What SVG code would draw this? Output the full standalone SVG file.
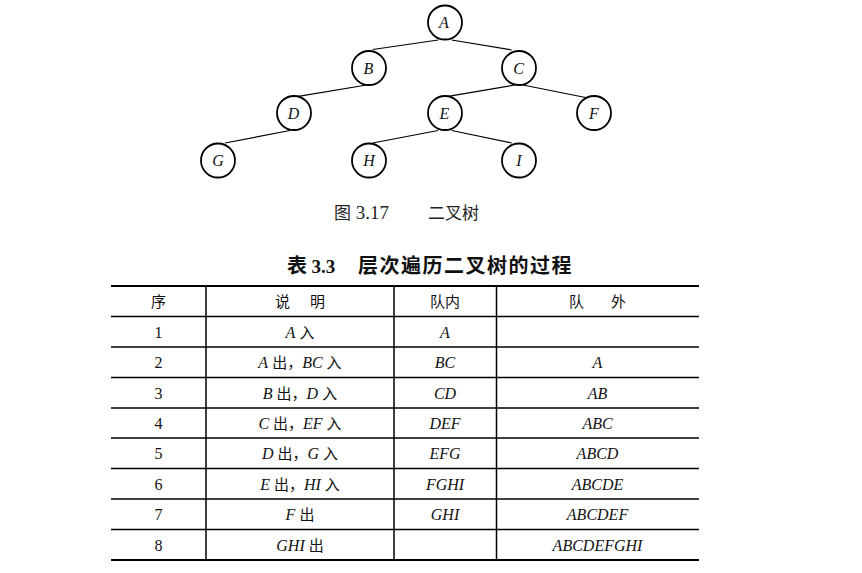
<svg xmlns="http://www.w3.org/2000/svg" width="862" height="573" viewBox="0 0 862 573">
<style>
.node circle{fill:#fff;stroke:#000;stroke-width:1.8}
.node text{font-family:"Liberation Serif",serif;font-style:italic;font-size:16px;text-anchor:middle;fill:#111}
.edges line{stroke:#000;stroke-width:1.2}
.grid line{stroke:#000}
.t{font-family:"Liberation Serif","Noto Sans CJK SC",serif;font-size:16px;text-anchor:middle;fill:#111}
.i{font-style:italic}
.cjk{font-family:"Noto Sans CJK SC",sans-serif;font-size:15px}
.cap{font-family:"Liberation Serif","Noto Sans CJK SC",serif;font-size:19px;fill:#222}
.title{font-family:"Noto Sans CJK SC",sans-serif;font-size:20px;font-weight:bold;fill:#111}
</style>
<rect width="862" height="573" fill="#fff"/>
<g class="edges">
<line x1="438.3" y1="40" x2="372.7" y2="49.5"/>
<line x1="451.7" y1="40" x2="511.7" y2="50"/>
<line x1="366.7" y1="85" x2="296.7" y2="96.7"/>
<line x1="515" y1="85" x2="446.7" y2="96.7"/>
<line x1="523" y1="85" x2="588" y2="98"/>
<line x1="290" y1="130.5" x2="225" y2="143"/>
<line x1="438" y1="130.5" x2="372.7" y2="143"/>
<line x1="451.7" y1="130.5" x2="511.7" y2="143"/>
</g>
<g id="node-A" class="node"><circle cx="445" cy="22.5" r="17"/><text x="444" y="28">A</text></g>
<g id="node-B" class="node"><circle cx="369" cy="68" r="17"/><text x="368.5" y="73.5">B</text></g>
<g id="node-C" class="node"><circle cx="519" cy="68" r="17"/><text x="518.5" y="73.5">C</text></g>
<g id="node-D" class="node"><circle cx="294" cy="113" r="17"/><text x="293.5" y="118.5">D</text></g>
<g id="node-E" class="node"><circle cx="445" cy="113" r="17"/><text x="444.5" y="118.5">E</text></g>
<g id="node-F" class="node"><circle cx="594" cy="113" r="17"/><text x="594" y="118.5">F</text></g>
<g id="node-G" class="node"><circle cx="218" cy="160.5" r="17"/><text x="218" y="166">G</text></g>
<g id="node-H" class="node"><circle cx="369" cy="160.5" r="17"/><text x="369" y="166">H</text></g>
<g id="node-I" class="node"><circle cx="519" cy="160.5" r="17"/><text x="519" y="166">I</text></g>
<text class="cap" x="334" y="219"><tspan font-family="Noto Sans CJK SC,sans-serif" font-size="17">图</tspan> 3.17<tspan x="428" font-family="Noto Sans CJK SC,sans-serif" font-size="17">二叉树</tspan></text>
<text class="title" x="287" y="273">表 <tspan font-family="Liberation Serif,serif" font-size="19">3.3</tspan><tspan x="358" letter-spacing="1.5">层次遍历二叉树的过程</tspan></text>
<g class="grid">
<line x1="111" y1="286" x2="699" y2="286" stroke-width="2.2"/>
<line x1="111" y1="316.5" x2="699" y2="316.5" stroke-width="1.4"/>
<line x1="111" y1="347" x2="699" y2="347" stroke-width="1.4"/>
<line x1="111" y1="377.5" x2="699" y2="377.5" stroke-width="1.4"/>
<line x1="111" y1="408" x2="699" y2="408" stroke-width="1.4"/>
<line x1="111" y1="438" x2="699" y2="438" stroke-width="1.4"/>
<line x1="111" y1="468.5" x2="699" y2="468.5" stroke-width="1.4"/>
<line x1="111" y1="499" x2="699" y2="499" stroke-width="1.4"/>
<line x1="111" y1="529.5" x2="699" y2="529.5" stroke-width="1.4"/>
<line x1="111" y1="560" x2="699" y2="560" stroke-width="2.2"/>
<line x1="206" y1="286" x2="206" y2="560" stroke-width="1.5"/>
<line x1="394" y1="286" x2="394" y2="560" stroke-width="1.5"/>
<line x1="496.5" y1="286" x2="496.5" y2="560" stroke-width="1.5"/>
</g>
<g class="t">
<text class="t cjk" x="158.5" y="306.5">序</text>
<text class="t cjk" x="300" y="306.5" xml:space="preserve">说      明</text>
<text class="t cjk" x="445" y="306.5">队内</text>
<text class="t cjk" x="597.5" y="306.5" xml:space="preserve">队        外</text>

<text class="t" x="158.5" y="337.5">1</text>
<text class="t" x="300" y="337.5"><tspan class="i">A</tspan> <tspan class="cjk">入</tspan></text>
<text class="t i" x="445" y="337.5">A</text>

<text class="t" x="158.5" y="368">2</text>
<text class="t" x="300" y="368"><tspan class="i">A</tspan> <tspan class="cjk">出，</tspan><tspan class="i">BC</tspan> <tspan class="cjk">入</tspan></text>
<text class="t i" x="445" y="368">BC</text>
<text class="t i" x="597.5" y="368">A</text>

<text class="t" x="158.5" y="398.5">3</text>
<text class="t" x="300" y="398.5"><tspan class="i">B</tspan> <tspan class="cjk">出，</tspan><tspan class="i">D</tspan> <tspan class="cjk">入</tspan></text>
<text class="t i" x="445" y="398.5">CD</text>
<text class="t i" x="597.5" y="398.5">AB</text>

<text class="t" x="158.5" y="429">4</text>
<text class="t" x="300" y="429"><tspan class="i">C</tspan> <tspan class="cjk">出，</tspan><tspan class="i">EF</tspan> <tspan class="cjk">入</tspan></text>
<text class="t i" x="445" y="429">DEF</text>
<text class="t i" x="597.5" y="429">ABC</text>

<text class="t" x="158.5" y="459">5</text>
<text class="t" x="300" y="459"><tspan class="i">D</tspan> <tspan class="cjk">出，</tspan><tspan class="i">G</tspan> <tspan class="cjk">入</tspan></text>
<text class="t i" x="445" y="459">EFG</text>
<text class="t i" x="597.5" y="459">ABCD</text>

<text class="t" x="158.5" y="489.5">6</text>
<text class="t" x="300" y="489.5"><tspan class="i">E</tspan> <tspan class="cjk">出，</tspan><tspan class="i">HI</tspan> <tspan class="cjk">入</tspan></text>
<text class="t i" x="445" y="489.5">FGHI</text>
<text class="t i" x="597.5" y="489.5">ABCDE</text>

<text class="t" x="158.5" y="520">7</text>
<text class="t" x="300" y="520"><tspan class="i">F</tspan> <tspan class="cjk">出</tspan></text>
<text class="t i" x="445" y="520">GHI</text>
<text class="t i" x="597.5" y="520">ABCDEF</text>

<text class="t" x="158.5" y="550.5">8</text>
<text class="t" x="300" y="550.5"><tspan class="i">GHI</tspan> <tspan class="cjk">出</tspan></text>
<text class="t i" x="597.5" y="550.5">ABCDEFGHI</text>
</g>
</svg>
